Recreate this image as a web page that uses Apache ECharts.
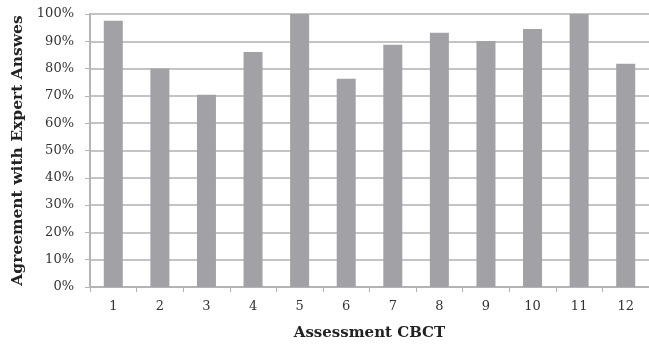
<!DOCTYPE html>
<html><head><meta charset="utf-8">
<script src="https://cdn.jsdelivr.net/npm/echarts@6/dist/echarts.min.js"></script>
<style>html,body{margin:0;padding:0;background:#fff}#c{width:649px;height:346px}</style>
</head><body><div id="c"></div>
<script>
const categories = ['1','2','3','4','5','6','7','8','9','10','11','12'];
const agreement = [97.5, 80, 70.4, 86.1, 100, 76.3, 88.7, 93.1, 90.1, 94.5, 100, 81.8];
const yTicks = [0,10,20,30,40,50,60,70,80,90,100];

const chart = echarts.init(document.getElementById('c'));
const font = 'DejaVu Serif, serif';
chart.setOption({
  animation:false,
  grid:{left:90, top:14, width:563, height:274},
  xAxis:{
    type:'category', data:categories,
    name:'Assessment CBCT', nameLocation:'middle', nameGap:39,
    nameTextStyle:{fontFamily:font, fontWeight:'bold', fontSize:15, color:'#222'},
    axisLine:{lineStyle:{color:'#b4b4b8', width:2}},
    axisTick:{show:true, alignWithLabel:false, length:5, lineStyle:{color:'#b4b4b8'}},
    axisLabel:{fontFamily:font, fontSize:13, color:'#333', margin:13}
  },
  yAxis:{
    type:'value', min:0, max:100, interval:10,
    name:'Agreement with Expert Answes', nameLocation:'middle', nameGap:64,
    nameTextStyle:{fontFamily:font, fontWeight:'bold', fontSize:15.5, color:'#222'},
    axisLine:{show:true, lineStyle:{color:'#b4b4b8', width:2}},
    axisTick:{show:true, length:5, lineStyle:{color:'#b4b4b8'}},
    splitLine:{lineStyle:{color:'#c4c4c8', width:2}},
    axisLabel:{fontFamily:font, fontSize:13, color:'#333', margin:16,
      formatter:v=> yTicks.includes(v) ? v+'%' : ''}
  },
  series:[{type:'bar', data:agreement, barWidth:19, itemStyle:{color:'#a2a2a6'}}]
});
</script></body></html>
